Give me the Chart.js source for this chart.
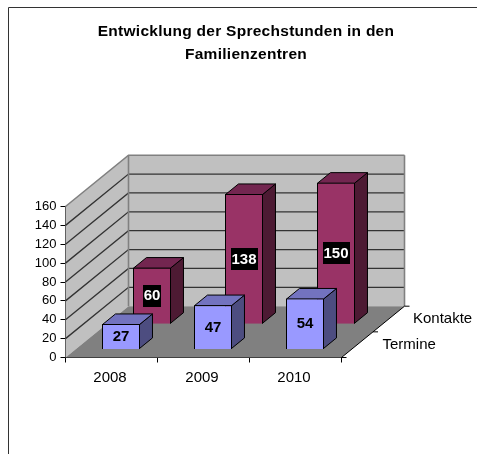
<!DOCTYPE html>
<html><head><meta charset="utf-8">
<style>html,body{margin:0;padding:0;background:#fff}canvas{display:block}</style>
<script src="https://cdn.jsdelivr.net/npm/chart.js@4"></script></head>
<body><canvas id="c" width="477" height="454"></canvas>
<script>
const categories = ['2008','2009','2010'];
const termine = [27,47,54];
const kontakte = [60,138,150];
const seriesNames = ['Termine','Kontakte'];
const titleLines = ['Entwicklung der Sprechstunden in den','Familienzentren'];
const yTicks = {min:0,max:160,step:20};

const DX=63, DY=51.3;                 // depth vector of the floor
const frontFrac=[0.156,0.648], thick=0.206;
const faces=[{front:'#9999FF',side:'#4D4D80',top:'#7373BF'},{front:'#993366',side:'#4D1A33',top:'#732650'}];
const FONT='"Liberation Sans", Arial, sans-serif';

const plugin3d={
  id:'box3d',
  afterLayout(chart){
    const tb=chart.titleBlock;
    tb.left=15; tb.right=477;
    if(!tb._spaced){
      tb._spaced=true;
      const d=tb.draw;
      tb.draw=function(a){const x=chart.ctx;x.save();x.letterSpacing='0.27px';d.call(this,a);x.restore();};
    }
  },
  afterDatasetsUpdate(chart){
    chart.data.datasets.forEach((d,i)=>{
      chart.getDatasetMeta(i).data.forEach(el=>{
        const ox=DX*frontFrac[i], oy=DY*frontFrac[i];
        el.width=38;
        el.x=Math.round(el.x+ox-19)+19;
        el.y=el.y-oy; el.base=el.base-oy;
      });
    });
  },
  beforeDatasetsDraw(chart){
    const c=chart.ctx,a=chart.chartArea,y=chart.scales.y;
    const L=a.left,R=a.right,T=a.top,B=a.bottom;
    c.save();
    // walls
    c.fillStyle='#C0C0C0';
    c.beginPath();c.moveTo(L,B);c.lineTo(L,T);c.lineTo(L+DX,T-DY);c.lineTo(R+DX,T-DY);c.lineTo(R+DX,B-DY);c.lineTo(L+DX,B-DY);c.closePath();c.fill();
    // gridlines
    y.ticks.forEach(t=>{
      const p=y.getPixelForValue(t.value);
      if(t.value===yTicks.min) return;
      const top=t.value===yTicks.max;
      c.lineWidth=top?1.6:1.3;
      c.strokeStyle=top?'#808080':'#333';
      c.beginPath();c.moveTo(L,p);c.lineTo(L+DX,p-DY);c.lineTo(R+DX,p-DY);c.stroke();
    });
    // wall edges
    c.strokeStyle='#808080';c.lineWidth=1.6;
    c.beginPath();c.moveTo(L+DX,T-DY);c.lineTo(L+DX,B-DY);c.moveTo(R+DX,T-DY);c.lineTo(R+DX,B-DY);c.stroke();
    // floor
    c.fillStyle='#808080';
    c.beginPath();c.moveTo(L,B);c.lineTo(R,B);c.lineTo(R+DX,B-DY);c.lineTo(L+DX,B-DY);c.closePath();c.fill();
    // depth axis
    c.strokeStyle='#000';c.lineWidth=1;
    c.beginPath();c.moveTo(R,B);c.lineTo(R+DX,B-DY);
    [0,.5,1].forEach(f=>{c.moveTo(R+DX*f,B-DY*f);c.lineTo(R+DX*f+5,B-DY*f);});
    c.stroke();
    // depth labels
    c.fillStyle='#000';c.font='15px '+FONT;c.textAlign='left';c.textBaseline='middle';
    c.fillText(seriesNames[0],382.5,344.5);
    c.fillText(seriesNames[1],413,318.5);
    // chart frame
    c.strokeStyle='#333';c.beginPath();c.moveTo(8.5,460);c.lineTo(8.5,7.5);c.lineTo(480,7.5);c.stroke();
    c.restore();
  },
  beforeDatasetDraw(chart,args){
    const i=args.index,c=chart.ctx,f=faces[i];
    const dx=DX*thick,dy=DY*thick;
    c.save();c.lineWidth=1;c.strokeStyle='#000';c.lineJoin='round';
    args.meta.data.forEach(el=>{
      const l=el.x-el.width/2+.5,r=el.x+el.width/2-.5,t=el.y+.5,b=el.base-.5;
      c.fillStyle=f.side;c.beginPath();c.moveTo(r,b);c.lineTo(r+dx,b-dy);c.lineTo(r+dx,t-dy);c.lineTo(r,t);c.closePath();c.fill();c.stroke();
      c.fillStyle=f.top;c.beginPath();c.moveTo(l,t);c.lineTo(l+dx,t-dy);c.lineTo(r+dx,t-dy);c.lineTo(r,t);c.closePath();c.fill();c.stroke();
    });
    c.restore();
  },
  afterDatasetDraw(chart,args){
    const i=args.index,c=chart.ctx,vals=chart.data.datasets[i].data;
    c.save();c.font='bold 15px '+FONT;c.textAlign='center';c.textBaseline='middle';
    args.meta.data.forEach((el,k)=>{
      const s=String(vals[k]),cx=el.x,cy=(el.y+el.base)/2;
      if(i===1){
        const w=c.measureText(s).width+1.5;
        c.fillStyle='#000';c.fillRect(Math.round(cx-w/2),Math.round(cy-11),Math.round(w),22);
        c.fillStyle='#fff';
      } else c.fillStyle='#000';
      c.fillText(s,cx,cy+.5);
    });
    c.restore();
  }
};

new Chart(document.getElementById('c'),{
  type:'bar',
  data:{labels:categories,datasets:[
    {label:seriesNames[0],data:termine,backgroundColor:faces[0].front,borderColor:'#000',borderWidth:1,grouped:false,barPercentage:.41,categoryPercentage:1,clip:false},
    {label:seriesNames[1],data:kontakte,backgroundColor:faces[1].front,borderColor:'#000',borderWidth:1,grouped:false,barPercentage:.41,categoryPercentage:1,clip:false}
  ]},
  plugins:[plugin3d],
  options:{
    responsive:false,animation:false,events:[],
    layout:{padding:{left:0,right:135.5,top:0,bottom:0}},
    plugins:{
      legend:{display:false},tooltip:{enabled:false},
      title:{display:true,text:titleLines,color:'#000',font:{family:FONT,size:15.5,weight:'bold',lineHeight:23/15.5},padding:{top:20,bottom:140.5}}
    },
    scales:{
      x:{afterFit(s){s.height=96.5},
        grid:{drawOnChartArea:false,color:'#000',tickLength:5},border:{color:'#000'},
        ticks:{color:'#000',font:{family:FONT,size:15},padding:6,maxRotation:0,labelOffset:-1.5}},
      y:{min:yTicks.min,max:yTicks.max,afterFit(s){s.width=65.5},
        grid:{drawOnChartArea:false,color:'#000',tickLength:5},border:{color:'#000'},
        ticks:{stepSize:yTicks.step,color:'#000',font:{family:FONT,size:13},padding:4}}
    }
  }
});
</script></body></html>
